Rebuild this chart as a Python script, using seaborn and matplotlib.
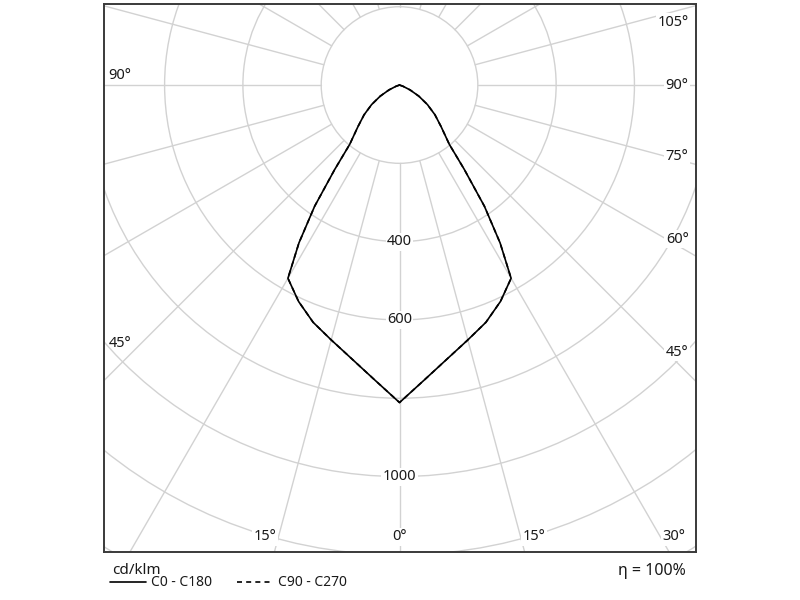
import numpy as np
import pandas as pd
import matplotlib.pyplot as plt
import seaborn as sns
from matplotlib.patches import Circle

# luminous intensity, cd/klm, per gamma angle (deg), one half plane
gamma = [0, 5, 10, 15, 20, 25, 30, 32.5, 35, 37.5, 40, 45, 50, 55, 60, 65, 70, 75, 90, 135, 180]
c0_c180 = [811, 754, 709, 674, 645, 610, 570, 478, 378, 272, 198, 150, 118, 87, 57, 30, 10, 0, 0, 0, 0]
c90_c270 = [811, 754, 709, 674, 645, 610, 570, 478, 378, 272, 198, 150, 118, 87, 57, 30, 10, 0, 0, 0, 0]

rings = [200, 400, 600, 800, 1000, 1200, 1400, 1600]
ring_labels = [400, 600, 1000]
spokes = list(range(0, 360, 15))
bottom_labels = [-15, 0, 15, 30]
right_labels = [45, 60, 75, 90, 105]
left_labels = [-45, -90]

grid_col = "#d2d2d2"
txt_col = "#1a1a1a"

sns.set_style("white")
plt.rcParams['font.family'] = ['Noto Sans', 'DejaVu Sans']

fig = plt.figure(figsize=(8, 6), dpi=100)
ax = fig.add_axes([0.1294, 0.0808, 0.74, 0.9125])
px = 2.554  # cd per pixel
ax.set_xlim(-756, 756)
ax.set_ylim(-1191.5, 206.9)
ax.set_xticks([])
ax.set_yticks([])
for s in ax.spines.values():
    s.set_color("#3a3a3a")
    s.set_linewidth(1.4)

# polar grid
for r in rings:
    ax.add_patch(Circle((0, 0), r, fill=False, ec=grid_col, lw=1.0, zorder=1))
for a in spokes:
    t = np.radians(a)
    ax.plot([200 * np.sin(t), 2000 * np.sin(t)], [-200 * np.cos(t), -2000 * np.cos(t)],
            color=grid_col, lw=1.0, zorder=1)

box = dict(facecolor="white", edgecolor="none", pad=1.0)
for r in ring_labels:
    ax.text(0, -r, str(r), ha="center", va="center", fontsize=10.5, color=txt_col, bbox=box, zorder=3)

# angle labels
yb = -(537 - 85) * px
for a in bottom_labels:
    xr = -yb * np.tan(np.radians(a))
    ha = "center" if a == 0 else ("left" if a > 0 else "right")
    xr += 0 if a == 0 else np.sign(a) * 2 * px
    ax.text(xr, yb, f"{abs(a)}°", ha=ha, va="center", fontsize=10.5, color=txt_col, bbox=box, zorder=3)
for a in right_labels:
    yr = -(667 - 400) * px / np.tan(np.radians(a)) if a != 90 else 0
    yr = min(yr, (85 - 22) * px)
    ax.text((689 - 400) * px, yr, f"{a}°", ha="right", va="center", fontsize=10.5, color=txt_col,
            bbox=box, zorder=3)
for a in left_labels:
    xl = (132 - 400) * px
    yl = -xl / np.tan(np.radians(a)) if a != -90 else 0
    ax.text(xl, yl + 2 * px, f"{abs(a)}°", ha="right", va="bottom", fontsize=10.5, color=txt_col, zorder=3)


def curve(vals):
    ang = [-g for g in gamma[::-1]] + gamma[1:]
    iv = vals[::-1] + vals[1:]
    t = np.radians(ang)
    return pd.DataFrame({"x": np.array(iv) * np.sin(t), "y": -np.array(iv) * np.cos(t)})


sns.lineplot(data=curve(c90_c270), x="x", y="y", sort=False, estimator=None, color="black",
             lw=1.2, linestyle=(0, (3, 2.5)), ax=ax, zorder=4)
h90 = ax.lines[-1]
sns.lineplot(data=curve(c0_c180), x="x", y="y", sort=False, estimator=None, color="black",
             lw=1.2, ax=ax, zorder=5)
h0 = ax.lines[-1]
ax.set_xlabel("")
ax.set_ylabel("")

fig.text(112 / 800, 1 - 570 / 600, "cd/klm", ha="left", va="center", fontsize=11, color=txt_col)
fig.text(686 / 800, 1 - 571 / 600, "η = 100%", ha="right", va="center", fontsize=11.5, color=txt_col)
fig.legend([h0, h90], ["C0 - C180", "C90 - C270"], loc="center left",
           bbox_to_anchor=(110 / 800, 1 - 583 / 600), ncol=2, frameon=False, fontsize=10,
           handlelength=2.6, handletextpad=0.35, columnspacing=1.8, borderpad=0, borderaxespad=0,
           labelcolor=txt_col)

fig.savefig("out.png", dpi=100)
